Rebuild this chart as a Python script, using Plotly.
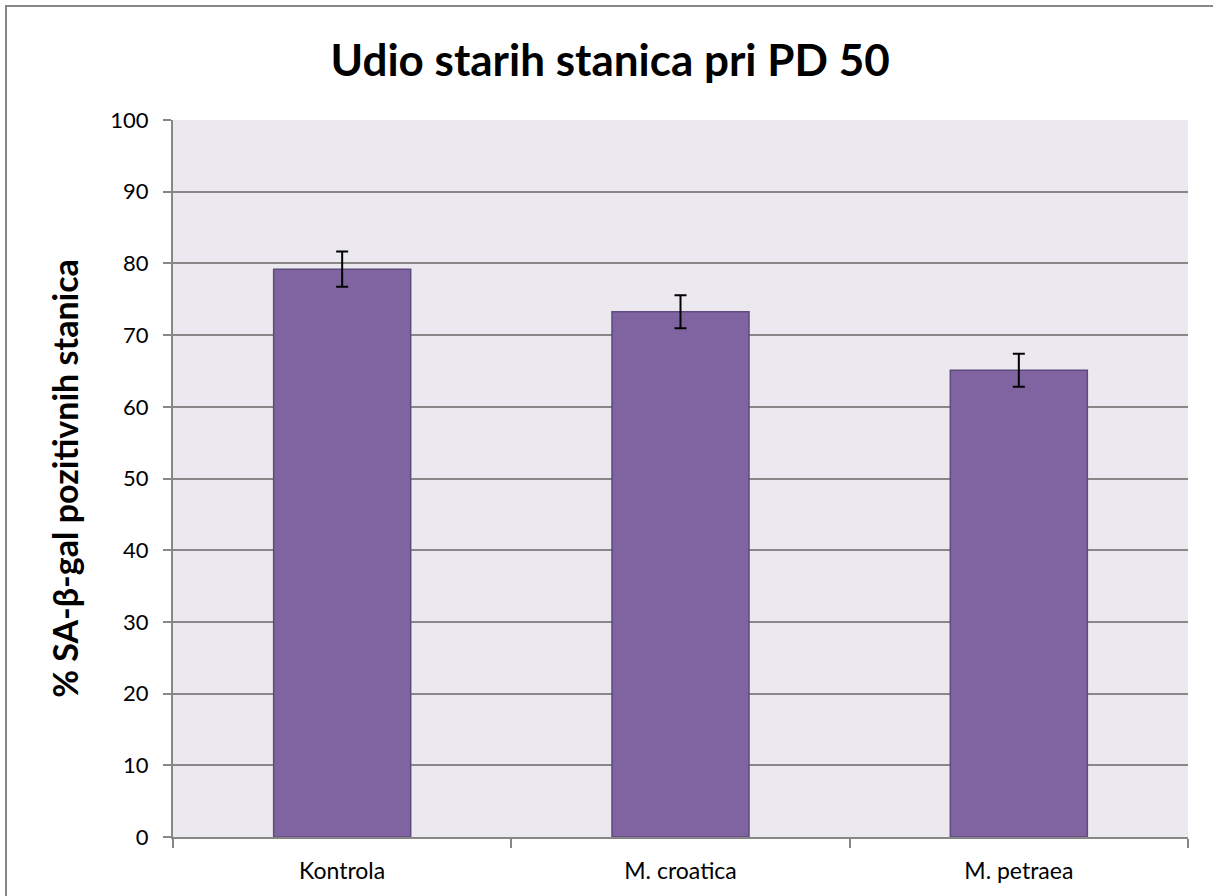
import plotly.graph_objects as go

categories = ["Kontrola", "M. croatica", "M. petraea"]
values = [79.2, 73.25, 65.1]
errors = [2.45, 2.3, 2.3]
y_ticks = [0, 10, 20, 30, 40, 50, 60, 70, 80, 90, 100]

title_text = "Udio starih stanica pri PD 50"
y_title = "% SA-β-gal pozitivnih stanica"

FONT = "Lato, Open Sans, sans-serif"

fig = go.Figure()
fig.add_trace(go.Bar(
    x=categories,
    y=values,
    marker=dict(color="#8064A2", line=dict(color="#5E4A7D", width=1.5)),
    error_y=dict(type="data", array=errors, visible=True, color="black",
                 thickness=2, width=6),
))

L, R, T, B = 173, 25, 120, 59
W, H = 1213, 896
pw = W - L - R
ph = H - T - B

fig.update_layout(
    width=W, height=H,
    margin=dict(l=L, r=R, t=T, b=B),
    paper_bgcolor="white",
    plot_bgcolor="#EBE9EF",
    bargap=0.595,
    showlegend=False,
    title=dict(text=f"<b>{title_text}</b>", x=0.503, xanchor="center",
               y=1 - 61 / H, yanchor="middle",
               font=dict(family=FONT, size=44, color="black")),
    font=dict(family=FONT, color="black"),
)
fig.update_xaxes(
    type="category",
    showline=True, linecolor="#878787", linewidth=2,
    ticks="outside", tickson="boundaries", ticklen=9, tickwidth=2, tickcolor="#878787",
    tickfont=dict(family=FONT, size=23, color="black"),
    ticklabelstandoff=12,
    showgrid=False,
)
fig.update_yaxes(
    range=[0, 100], tickvals=y_ticks,
    showline=True, linecolor="#878787", linewidth=2,
    ticks="outside", ticklen=8, tickwidth=2, tickcolor="#878787",
    tickfont=dict(family=FONT, size=22, color="black"),
    ticklabelstandoff=10,
    showgrid=True, gridcolor="#878787", gridwidth=1.5,
    zeroline=False,
    title=dict(text=f"<b>{y_title}</b>", font=dict(family=FONT, size=34, color="black"),
               standoff=21),
)

# outer chart frame
fig.add_shape(type="rect", xref="paper", yref="paper",
              x0=(6 - L) / pw, x1=(1225 - L) / pw,
              y0=(H - B - 910) / ph, y1=(H - B - 6) / ph,
              line=dict(color="#878787", width=2), fillcolor="rgba(0,0,0,0)",
              layer="below")

fig.write_html("out.html", config={"displayModeBar": False},
               post_script="document.body.style.margin='0';document.body.style.overflow='hidden';")
